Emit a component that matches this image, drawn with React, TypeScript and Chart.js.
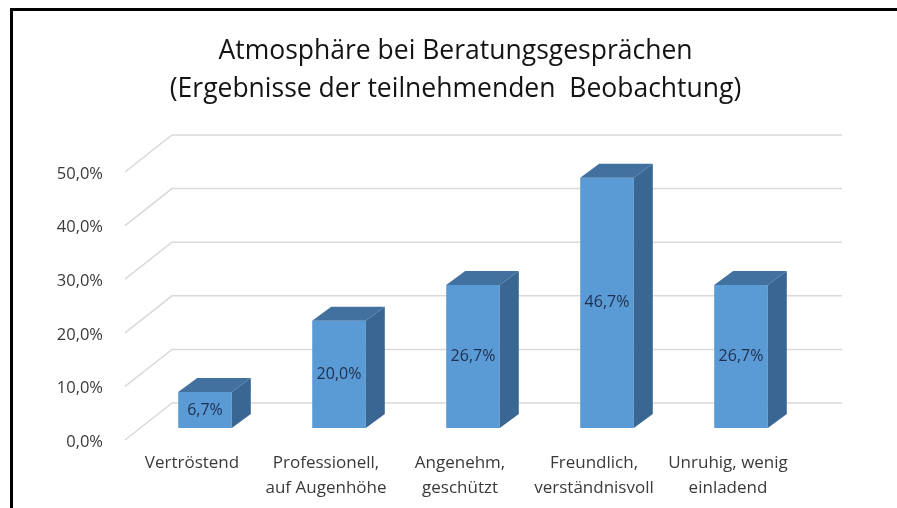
import React, { useEffect, useRef } from "react";
import { Chart, registerables } from "chart.js";

Chart.register(...registerables);

const categories: string[][] = [
  ["Vertröstend"],
  ["Professionell,", "auf Augenhöhe"],
  ["Angenehm,", "geschützt"],
  ["Freundlich,", "verständnisvoll"],
  ["Unruhig, wenig", "einladend"],
];
const values: number[] = [6.7, 20.0, 26.7, 46.7, 26.7];
const yTicks: number[] = [0, 10, 20, 30, 40, 50];
const titleLines: string[] = [
  "Atmosphäre bei Beratungsgesprächen",
  "(Ergebnisse der teilnehmenden  Beobachtung)",
];

const FONT = "'Open Sans', 'DejaVu Sans', sans-serif";
const fmt = (v: number) => v.toFixed(1).replace(".", ",") + "%";

// 3D projection offsets
const BAR_DX = 19;
const BAR_DY = -14;
const BACK_DX = 34;
const BACK_DY = -25;
const FRONT_DX = -13;
const FRONT_DY = 12;

const framePlugin = {
  id: "frame",
  beforeDraw(chart: any) {
    const ctx = chart.ctx;
    ctx.save();
    ctx.fillStyle = "#ffffff";
    ctx.fillRect(0, 0, chart.width, chart.height);
    ctx.fillStyle = "#000000";
    ctx.fillRect(10, 8, chart.width - 10, 3);
    ctx.fillRect(10, 8, 3, chart.height - 8);
    ctx.restore();
  },
};

const gridPlugin = {
  id: "grid3d",
  beforeDatasetsDraw(chart: any) {
    const ctx = chart.ctx;
    const ys = chart.scales.y;
    const { left, right } = chart.chartArea;
    ctx.save();
    ctx.strokeStyle = "#d9d9d9";
    ctx.lineWidth = 1.5;
    yTicks.forEach((v) => {
      const py = ys.getPixelForValue(v);
      ctx.beginPath();
      ctx.moveTo(left + FRONT_DX, py + FRONT_DY);
      ctx.lineTo(left + BACK_DX, py + BACK_DY);
      ctx.lineTo(right + BACK_DX, py + BACK_DY);
      ctx.stroke();
    });
    ctx.restore();
  },
};

const bar3dPlugin = {
  id: "bar3d",
  afterDatasetsDraw(chart: any) {
    const ctx = chart.ctx;
    const meta = chart.getDatasetMeta(0);
    ctx.save();
    meta.data.forEach((bar: any, i: number) => {
      const { x, y, base, width } = bar.getProps(["x", "y", "base", "width"], true);
      const l = x - width / 2;
      const r = x + width / 2;
      // top face
      ctx.fillStyle = "#42719F";
      ctx.beginPath();
      ctx.moveTo(l, y);
      ctx.lineTo(l + BAR_DX, y + BAR_DY);
      ctx.lineTo(r + BAR_DX, y + BAR_DY);
      ctx.lineTo(r, y);
      ctx.closePath();
      ctx.fill();
      // side face
      ctx.fillStyle = "#396692";
      ctx.beginPath();
      ctx.moveTo(r, y);
      ctx.lineTo(r + BAR_DX, y + BAR_DY);
      ctx.lineTo(r + BAR_DX, base + BAR_DY);
      ctx.lineTo(r, base);
      ctx.closePath();
      ctx.fill();
      // value label
      ctx.fillStyle = "#1F2F4F";
      ctx.font = `16px ${FONT}`;
      ctx.textAlign = "center";
      ctx.textBaseline = "middle";
      ctx.fillText(fmt(values[i]), x, (y + base) / 2);
    });
    ctx.restore();
  },
};

export default function App() {
  const ref = useRef<HTMLCanvasElement | null>(null);

  useEffect(() => {
    document.body.style.margin = "0";
    if (!ref.current) return;
    const chart = new Chart(ref.current, {
      type: "bar",
      data: {
        labels: categories,
        datasets: [
          {
            data: values,
            backgroundColor: "#5B9BD5",
            borderWidth: 0,
            barPercentage: 0.4,
            categoryPercentage: 1,
          },
        ],
      },
      options: {
        responsive: false,
        animation: false,
        layout: { padding: { left: 14, right: 0, top: 0, bottom: 0 } },
        plugins: {
          legend: { display: false },
          tooltip: { enabled: false },
          title: {
            display: true,
            text: titleLines,
            color: "#141414",
            font: { family: FONT, size: 26.5, weight: "normal", lineHeight: 38 / 26.5 },
            padding: { top: 32, bottom: 52 },
          },
        },
        scales: {
          x: {
            grid: { display: false, drawTicks: false },
            border: { display: false },
            ticks: {
              color: "#3a3a3a",
              font: { family: FONT, size: 17, lineHeight: 25 / 17 },
              padding: 23,
              labelOffset: FRONT_DX,
              maxRotation: 0,
              autoSkip: false,
            },
            afterFit(scale: any) {
              scale.height = 80;
            },
          },
          y: {
            min: 0,
            max: 50,
            grid: { display: false, drawTicks: false },
            border: { display: false },
            ticks: {
              stepSize: 10,
              color: "#3a3a3a",
              font: { family: FONT, size: 16.5 },
              padding: 35,
              labelOffset: 14,
              callback: (v: any) => fmt(Number(v)),
            },
            afterFit(scale: any) {
              scale.width = 124;
            },
          },
          yRight: {
            type: "linear",
            position: "right",
            display: true,
            grid: { display: false, drawTicks: false },
            border: { display: false },
            ticks: { display: false },
            afterFit(scale: any) {
              scale.width = 89;
            },
          },
        },
      },
      plugins: [framePlugin, gridPlugin, bar3dPlugin],
    });
    return () => chart.destroy();
  }, []);

  return (
    <div style={{ width: 897, height: 508 }}>
      <canvas ref={ref} width={897} height={508} />
    </div>
  );
}
